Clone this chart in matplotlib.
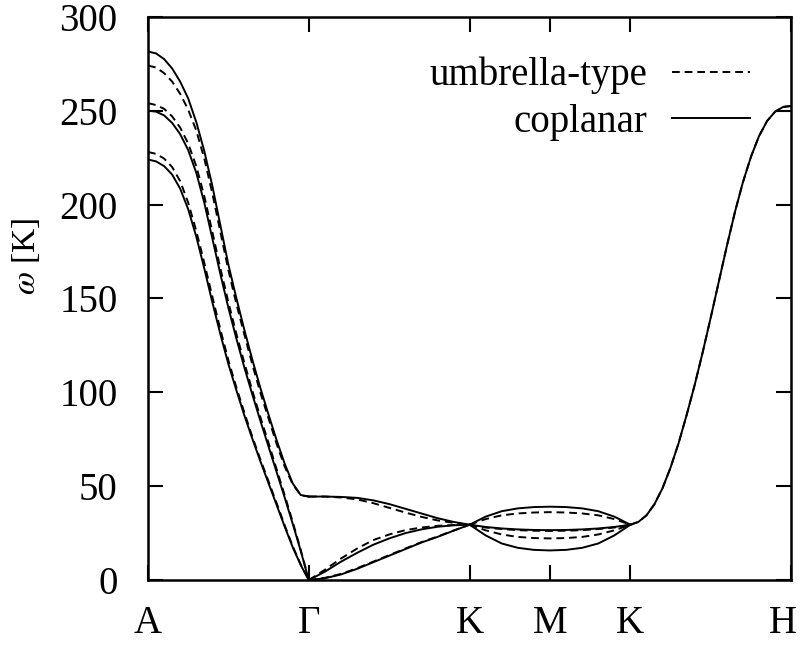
import matplotlib
matplotlib.use("Agg")
import matplotlib.pyplot as plt
from matplotlib.lines import Line2D
from matplotlib.transforms import ScaledTranslation

plt.rcParams["font.family"] = ["Liberation Serif", "DejaVu Serif"]
plt.rcParams["mathtext.fontset"] = "stix"

# high-symmetry points along the path
k_pos = [0, 1, 2, 2.5, 3, 4]
k_labels = ["A", "Γ", "K", "M", "K", "H"]

# --- A -> Gamma ---
u_ag = [0.0, 0.05, 0.1, 0.15, 0.2, 0.25, 0.3, 0.35, 0.4, 0.45, 0.5,
        0.55, 0.6, 0.65, 0.7, 0.75, 0.8, 0.85, 0.9, 0.95, 1.0]
ag_cop_1 = [281.5, 280.5, 277.5, 272.5, 265.5, 256.5, 244.0, 228.5, 210.0, 189.0, 168.0,
            150.0, 133.0, 117.0, 102.0, 88.0, 74.5, 62.0, 51.5, 45.3, 44.5]
ag_umb_1 = [274.0, 273.0, 270.0, 265.5, 259.0, 250.5, 239.5, 224.5, 206.0, 185.5, 165.0,
            147.0, 130.5, 114.5, 99.5, 86.0, 72.5, 60.5, 51.0, 45.2, 44.5]
ag_cop_2 = [250.0, 249.5, 247.5, 243.5, 237.5, 229.0, 217.0, 201.0, 182.0, 163.0, 145.0,
            128.5, 113.0, 98.5, 84.5, 71.0, 57.5, 44.0, 30.0, 15.5, 0.0]
ag_umb_2 = [254.0, 253.0, 251.0, 247.0, 241.0, 232.5, 220.5, 204.5, 185.5, 166.0, 148.0,
            131.0, 115.5, 100.5, 86.5, 73.0, 59.0, 45.2, 31.0, 16.0, 0.0]
ag_cop_3 = [224.0, 223.0, 220.5, 216.0, 208.5, 197.5, 183.0, 166.0, 148.0, 131.0, 115.0,
            101.0, 87.5, 75.0, 63.0, 51.5, 40.0, 28.5, 17.5, 8.0, 0.0]
ag_umb_3 = [228.0, 227.0, 224.5, 220.0, 212.5, 201.0, 186.0, 169.0, 151.0, 133.5, 117.0,
            102.5, 89.0, 76.0, 64.0, 52.5, 41.0, 29.2, 18.0, 8.3, 0.0]

# --- Gamma -> K ---
u_gk = [1.0, 1.1, 1.2, 1.3, 1.4, 1.5, 1.6, 1.7, 1.8, 1.9, 2.0]
gk_cop_1 = [44.5, 44.5, 44.3, 43.8, 42.5, 40.5, 38.0, 35.5, 33.0, 31.0, 29.5]
gk_umb_1 = [44.5, 44.5, 44.0, 43.0, 41.0, 38.5, 36.0, 33.7, 31.8, 30.5, 29.5]
gk_cop_2 = [0.0, 4.5, 9.8, 14.5, 18.8, 22.2, 25.0, 27.0, 28.4, 29.2, 29.5]
gk_umb_2 = [0.0, 5.5, 11.5, 16.8, 21.3, 24.3, 26.6, 28.0, 28.9, 29.3, 29.5]
gk_cop_3 = [0.0, 1.0, 3.0, 6.0, 9.5, 13.0, 16.5, 20.0, 23.0, 26.3, 29.5]
gk_umb_3 = [0.0, 1.2, 3.3, 6.3, 9.8, 13.3, 16.8, 20.2, 23.2, 26.4, 29.5]

# --- K -> M -> K ---
u_kmk = [2.0, 2.1, 2.2, 2.3, 2.4, 2.5, 2.6, 2.7, 2.8, 2.9, 3.0]
kmk_cop_1 = [29.5, 33.8, 36.7, 38.2, 38.9, 39.1, 38.9, 38.2, 36.7, 33.8, 29.5]
kmk_umb_1 = [29.5, 32.5, 34.5, 35.5, 36.0, 36.2, 36.0, 35.5, 34.5, 32.5, 29.5]
kmk_cop_2 = [29.5, 28.3, 27.5, 27.0, 26.7, 26.6, 26.7, 27.0, 27.5, 28.3, 29.5]
kmk_umb_2 = [29.5, 28.0, 27.2, 26.6, 26.3, 26.2, 26.3, 26.6, 27.2, 28.0, 29.5]
kmk_umb_3 = [29.5, 26.5, 24.3, 23.0, 22.4, 22.2, 22.4, 23.0, 24.3, 26.5, 29.5]
kmk_cop_3 = [29.5, 23.8, 19.5, 17.2, 16.1, 15.8, 16.1, 17.2, 19.5, 23.8, 29.5]

# --- K -> H (both structures coincide) ---
u_kh = [3.0, 3.05, 3.1, 3.15, 3.2, 3.25, 3.3, 3.35, 3.4, 3.45, 3.5,
        3.55, 3.6, 3.65, 3.7, 3.75, 3.8, 3.85, 3.9, 3.95, 4.0]
kh_band = [29.5, 31.0, 34.5, 40.5, 49.0, 60.0, 73.0, 88.0, 104.0, 121.5, 140.0,
           159.0, 178.0, 196.0, 212.0, 225.5, 236.5, 244.5, 249.5, 252.0, 252.5]

fig = plt.figure(figsize=(8.0, 6.46), dpi=100)
ax = fig.add_axes([0.185, 0.102, 0.804, 0.872])

lw = 1.4
dash = (4, 2.5)

coplanar = [(u_ag, ag_cop_1), (u_ag, ag_cop_2), (u_ag, ag_cop_3),
            (u_gk, gk_cop_1), (u_gk, gk_cop_2), (u_gk, gk_cop_3),
            (u_kmk, kmk_cop_1), (u_kmk, kmk_cop_2), (u_kmk, kmk_cop_3),
            (u_kh, kh_band)]
umbrella = [(u_ag, ag_umb_1), (u_ag, ag_umb_2), (u_ag, ag_umb_3),
            (u_gk, gk_umb_1), (u_gk, gk_umb_2), (u_gk, gk_umb_3),
            (u_kmk, kmk_umb_1), (u_kmk, kmk_umb_2), (u_kmk, kmk_umb_3),
            (u_kh, kh_band)]

for xs, ys in umbrella:
    ax.plot(xs, ys, color="black", lw=lw, ls=(0, dash))
for xs, ys in coplanar:
    ax.plot(xs, ys, color="black", lw=lw)

ax.set_xlim(0, 4)
ax.set_ylim(0, 300)
ax.set_xticks(k_pos)
ax.set_xticklabels(k_labels)
ax.set_yticks([0, 50, 100, 150, 200, 250, 300])

ax.tick_params(axis="both", direction="in", length=11, width=1.5,
               top=True, right=True, labelsize=28)
ax.tick_params(axis="y", pad=22)
ax.tick_params(axis="x", pad=18)
for sp in ax.spines.values():
    sp.set_linewidth(1.8)

# keep the "H" inside the canvas
last = ax.get_xticklabels()[-1]
last.set_transform(last.get_transform() + ScaledTranslation(-6 / 72, 0, fig.dpi_scale_trans))

ax.set_ylabel(r"$\omega$ [K]", fontsize=24)
ax.yaxis.set_label_coords(-0.165, 0.575)

handles = [Line2D([], [], color="black", lw=lw, ls=(0, dash)),
           Line2D([], [], color="black", lw=lw)]
ax.legend(handles, ["umbrella-type", "coplanar"], loc="upper right",
          bbox_to_anchor=(0.936, 0.929), frameon=False, markerfirst=False,
          fontsize=28, handlelength=2.0, handletextpad=0.65,
          labelspacing=0.25, borderpad=0, borderaxespad=0)

fig.savefig("out.png", dpi=100)
